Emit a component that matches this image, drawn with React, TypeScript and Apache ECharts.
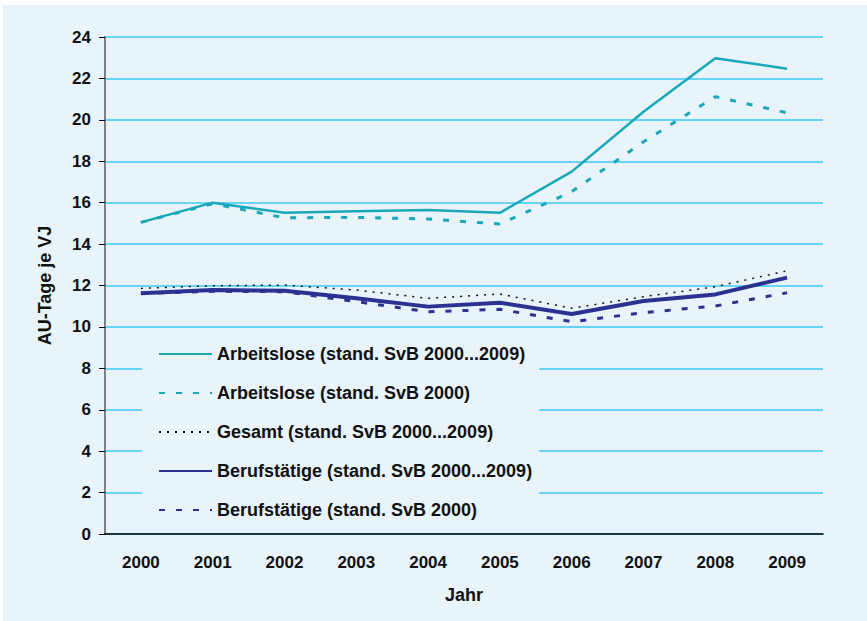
import React, { useEffect, useRef } from "react";
import * as echarts from "echarts";

const years = ["2000", "2001", "2002", "2003", "2004", "2005", "2006", "2007", "2008", "2009"];
const arbeitsloseAll = [15.05, 16.0, 15.51, 15.58, 15.64, 15.51, 17.5, 20.39, 22.97, 22.47];
const arbeitslose2000 = [15.05, 15.95, 15.27, 15.29, 15.21, 14.97, 16.53, 18.94, 21.12, 20.34];
const gesamtAll = [11.86, 11.99, 12.02, 11.78, 11.38, 11.59, 10.9, 11.46, 11.94, 12.71];
const berufAll = [11.62, 11.78, 11.75, 11.38, 10.98, 11.17, 10.62, 11.25, 11.57, 12.38];
const beruf2000 = [11.62, 11.72, 11.7, 11.22, 10.73, 10.85, 10.25, 10.69, 11.01, 11.65];

const seriesNames = [
  "Arbeitslose (stand. SvB 2000...2009)",
  "Arbeitslose (stand. SvB 2000)",
  "Gesamt (stand. SvB 2000...2009)",
  "Berufstätige (stand. SvB 2000...2009)",
  "Berufstätige (stand. SvB 2000)",
];

const TEAL = "#19a8b8";
const NAVY = "#2b3190";
const BG = "#e8f4fa";
const FONT = "'Liberation Sans', Arial, sans-serif";

export default function App() {
  const ref = useRef<HTMLDivElement>(null);
  useEffect(() => {
    if (!ref.current) return;
    const chart = echarts.init(ref.current, undefined, { renderer: "svg" });
    const mk = (name: string, data: number[], color: string, width: number, type: any, z: number) => ({
      name,
      type: "line",
      data,
      symbol: "none",
      z,
      lineStyle: { color, width, type },
      itemStyle: { color },
    });
    chart.setOption({
      animation: false,
      backgroundColor: BG,
      textStyle: { fontFamily: FONT },
      grid: { left: 102, top: 32, width: 718, height: 497, containLabel: false },
      legend: {
        orient: "vertical",
        left: 139,
        top: 330,
        padding: [10, 7, 10, 16],
        backgroundColor: BG,
        itemWidth: 53,
        itemHeight: 18,
        itemGap: 21,
        itemStyle: { opacity: 0 },
        textStyle: { fontFamily: FONT, fontWeight: "bold", fontSize: 18, color: "#111" },
        data: seriesNames,
        z: 10,
      },
      xAxis: {
        type: "category",
        data: years,
        boundaryGap: true,
        name: "Jahr",
        nameLocation: "middle",
        nameGap: 52,
        nameTextStyle: { fontFamily: FONT, fontWeight: "bold", fontSize: 18, color: "#111" },
        axisLine: { show: true, lineStyle: { color: "#000", width: 1.5 } },
        axisTick: { show: false },
        axisLabel: { fontFamily: FONT, fontWeight: "bold", fontSize: 17, color: "#111", margin: 20 },
        splitLine: { show: false },
      },
      yAxis: {
        type: "value",
        min: 0,
        max: 24,
        interval: 2,
        name: "AU-Tage je VJ",
        nameLocation: "middle",
        nameRotate: 90,
        nameGap: 51,
        nameTextStyle: { fontFamily: FONT, fontWeight: "bold", fontSize: 18, color: "#111" },
        axisLine: { show: true, lineStyle: { color: "#7a7f85", width: 2 } },
        axisTick: { show: true, length: 6, lineStyle: { color: "#000", width: 1 } },
        axisLabel: { fontFamily: FONT, fontWeight: "bold", fontSize: 17, color: "#111", margin: 14 },
        splitLine: { show: true, lineStyle: { color: "#3ccaf4", width: 1.5 } },
      },
      series: [
        mk(seriesNames[0], arbeitsloseAll, TEAL, 2.5, "solid", 3),
        mk(seriesNames[1], arbeitslose2000, TEAL, 3, [6, 11], 2),
        mk(seriesNames[2], gesamtAll, "#111", 1.5, [2, 6], 4),
        mk(seriesNames[3], berufAll, NAVY, 4, "solid", 3),
        mk(seriesNames[4], beruf2000, NAVY, 3, [6, 11], 2),
      ],
    });
    return () => chart.dispose();
  }, []);
  return (
    <div style={{ position: "absolute", left: 0, top: 0, width: 867, height: 621, background: "#fff" }}>
      <div ref={ref} style={{ position: "absolute", left: 3, top: 5, width: 864, height: 616 }} />
    </div>
  );
}
